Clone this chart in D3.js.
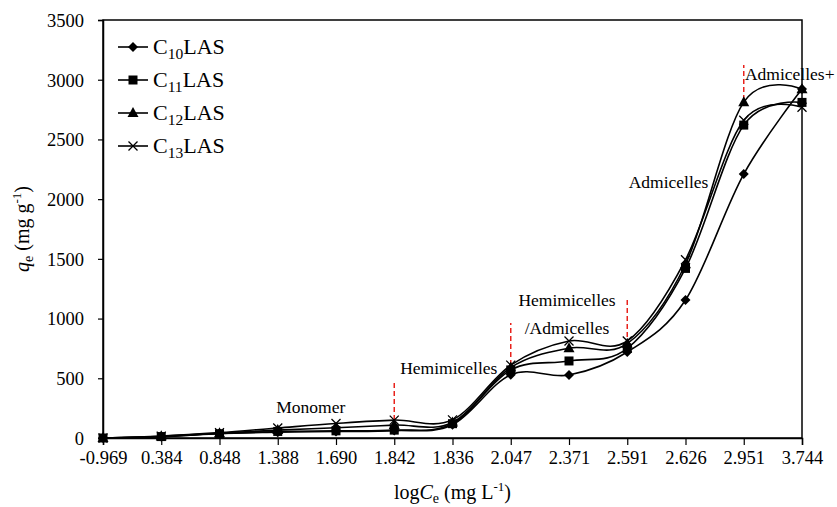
<!DOCTYPE html>
<html>
<head>
<meta charset="utf-8">
<script src="https://cdn.jsdelivr.net/npm/d3@7/dist/d3.min.js"></script>
<style>
  html, body { margin: 0; padding: 0; background: #fff; }
  svg { display: block; }
  svg text { font-family: "Liberation Serif", "Times New Roman", serif; }
</style>
</head>
<body>
<svg id="chart" width="837" height="507"></svg>
<script>
// log Ce categories (evenly spaced on the x axis, in measurement order)
const categories = ["-0.969", "0.384", "0.848", "1.388", "1.690", "1.842", "1.836",
                    "2.047", "2.371", "2.591", "2.626", "2.951", "3.744"];

// qe (mg/g) for each surfactant homologue
const c10 = [0, 10, 38, 48, 55, 62, 110, 530, 527, 720, 1155, 2210, 2922];
const c11 = [0, 12, 36, 55, 60, 66, 120, 570, 645, 750, 1420, 2620, 2810];
const c12 = [0, 15, 40, 66, 86, 108, 130, 590, 752, 790, 1455, 2812, 2920];
const c13 = [0, 16, 45, 84, 122, 150, 152, 610, 812, 812, 1492, 2660, 2770];

const seriesNames = ["10", "11", "12", "13"];
const yTicks = [0, 500, 1000, 1500, 2000, 2500, 3000, 3500];

// Adsorption-stage annotations: dashed marker spans (qe units)
const stageMarks = [
  { cat: "1.842", from: 150, to: 460 },
  { cat: "2.047", from: 611, to: 963 },
  { cat: "2.591", from: 779, to: 1155 },
  { cat: "2.951", from: 2830, to: 3123 }
];
const stageLabels = [
  { text: "Monomer", cat: "1.388", dx: 33, value: 209 },
  { text: "Hemimicelles", cat: "2.047", dx: -62, value: 536 },
  { text: "Hemimicelles", cat: "2.371", dx: -2, value: 1105 },
  { text: "/Admicelles", cat: "2.371", dx: -2, value: 875 },
  { text: "Admicelles", cat: "2.626", dx: -17, value: 2093 },
  { text: "Admicelles+", cat: "2.951", dx: 46, value: 2998 }
];

const series = [
  { name: seriesNames[0], values: c10, marker: "diamond" },
  { name: seriesNames[1], values: c11, marker: "square" },
  { name: seriesNames[2], values: c12, marker: "triangle" },
  { name: seriesNames[3], values: c13, marker: "cross" }
];

const svg = d3.select("#chart");
const FONT = "Liberation Serif, Times New Roman, serif";
const margin = { left: 103, right: 35, top: 20, bottom: 69 };
const W = 837, H = 507;

const x = d3.scalePoint().domain(categories).range([margin.left, W - margin.right]);
const y = d3.scaleLinear().domain([0, 3500]).range([H - margin.bottom, margin.top]);

// plot frame
svg.append("rect")
  .attr("x", margin.left).attr("y", margin.top)
  .attr("width", W - margin.right - margin.left)
  .attr("height", H - margin.bottom - margin.top)
  .attr("fill", "none").attr("stroke", "#000").attr("stroke-width", 1.5);

// axes
const xAxis = svg.append("g")
  .attr("transform", `translate(0,${H - margin.bottom})`)
  .call(d3.axisBottom(x).tickSize(7).tickPadding(6));
const yAxis = svg.append("g")
  .attr("transform", `translate(${margin.left},0)`)
  .call(d3.axisLeft(y).tickValues(yTicks).tickFormat(d3.format("d")).tickSize(5).tickPadding(14));
[xAxis, yAxis].forEach(g => {
  g.attr("font-family", FONT);
  g.select(".domain").attr("stroke", "#000").attr("stroke-width", 1.5);
  g.selectAll(".tick line").attr("stroke", "#000").attr("stroke-width", 1.2);
  g.selectAll(".tick text")
    .attr("font-family", FONT)
    .attr("font-size", 18.5).attr("fill", "#000");
});
yAxis.selectAll(".tick text").attr("dy", "0.34em");

// dashed stage markers
svg.append("g").selectAll("line").data(stageMarks).join("line")
  .attr("x1", d => x(d.cat)).attr("x2", d => x(d.cat))
  .attr("y1", d => y(d.from)).attr("y2", d => y(d.to))
  .attr("stroke", "#e8221c").attr("stroke-width", 1.5)
  .attr("stroke-dasharray", "5,3");

// smoothed series lines
const line = d3.line()
  .x((d, i) => x(categories[i]))
  .y(d => y(d))
  .curve(d3.curveCardinal.tension(0));

const lineG = svg.append("g");
series.forEach(s => {
  lineG.append("path")
    .attr("d", line(s.values))
    .attr("fill", "none").attr("stroke", "#000").attr("stroke-width", 1.6);
});

// marker shapes
function drawMarker(g, type, cx, cy) {
  if (type === "diamond") {
    g.append("path").attr("d", `M${cx},${cy - 5}L${cx + 5},${cy}L${cx},${cy + 5}L${cx - 5},${cy}Z`).attr("fill", "#000");
  } else if (type === "square") {
    g.append("rect").attr("x", cx - 4.5).attr("y", cy - 4.5).attr("width", 9).attr("height", 9).attr("fill", "#000");
  } else if (type === "triangle") {
    g.append("path").attr("d", `M${cx},${cy - 6}L${cx + 5.5},${cy + 4}L${cx - 5.5},${cy + 4}Z`).attr("fill", "#000");
  } else {
    g.append("path").attr("d", `M${cx - 4.5},${cy - 4.5}L${cx + 4.5},${cy + 4.5}M${cx - 4.5},${cy + 4.5}L${cx + 4.5},${cy - 4.5}`)
      .attr("stroke", "#000").attr("stroke-width", 1.3).attr("fill", "none");
  }
}
const markG = svg.append("g");
series.forEach(s => {
  s.values.forEach((v, i) => drawMarker(markG, s.marker, x(categories[i]), y(v)));
});

// stage labels
svg.append("g").selectAll("text").data(stageLabels).join("text")
  .attr("x", d => x(d.cat) + d.dx)
  .attr("y", d => y(d.value))
  .attr("text-anchor", "middle")
  .attr("font-family", FONT)
  .attr("font-size", 17.5).attr("fill", "#000")
  .text(d => d.text);

// legend
const legend = svg.append("g").attr("transform", "translate(118,47)");
series.forEach((s, i) => {
  const g = legend.append("g").attr("transform", `translate(0,${i * 33})`);
  g.append("line").attr("x1", 0).attr("x2", 30).attr("y1", 0).attr("y2", 0)
    .attr("stroke", "#000").attr("stroke-width", 1.6);
  drawMarker(g, s.marker, 15, 0);
  const t = g.append("text").attr("x", 35).attr("y", 7)
    .attr("font-family", FONT).attr("font-size", 22).attr("fill", "#000");
  t.append("tspan").text("C");
  t.append("tspan").attr("font-size", 15.5).attr("dy", 5).text(s.name);
  t.append("tspan").attr("dy", -5).text("LAS");
});

// axis titles
const xt = svg.append("text")
  .attr("x", (margin.left + W - margin.right) / 2).attr("y", 499)
  .attr("text-anchor", "middle").attr("font-family", FONT).attr("font-size", 20).attr("fill", "#000");
xt.append("tspan").text("log");
xt.append("tspan").attr("font-style", "italic").text("C");
xt.append("tspan").attr("font-size", 14).attr("dy", 4).text("e");
xt.append("tspan").attr("dy", -4).text(" (mg L");
xt.append("tspan").attr("font-size", 13).attr("dy", -8).text("-1");
xt.append("tspan").attr("dy", 8).text(")");

const yt = svg.append("text")
  .attr("transform", `translate(29,${(margin.top + H - margin.bottom) / 2}) rotate(-90)`)
  .attr("text-anchor", "middle").attr("font-family", FONT).attr("font-size", 20).attr("fill", "#000");
yt.append("tspan").attr("font-style", "italic").text("q");
yt.append("tspan").attr("font-size", 14).attr("dy", 4).text("e");
yt.append("tspan").attr("dy", -4).text(" (mg g");
yt.append("tspan").attr("font-size", 13).attr("dy", -8).text("-1");
yt.append("tspan").attr("dy", 8).text(")");
</script>
</body>
</html>
